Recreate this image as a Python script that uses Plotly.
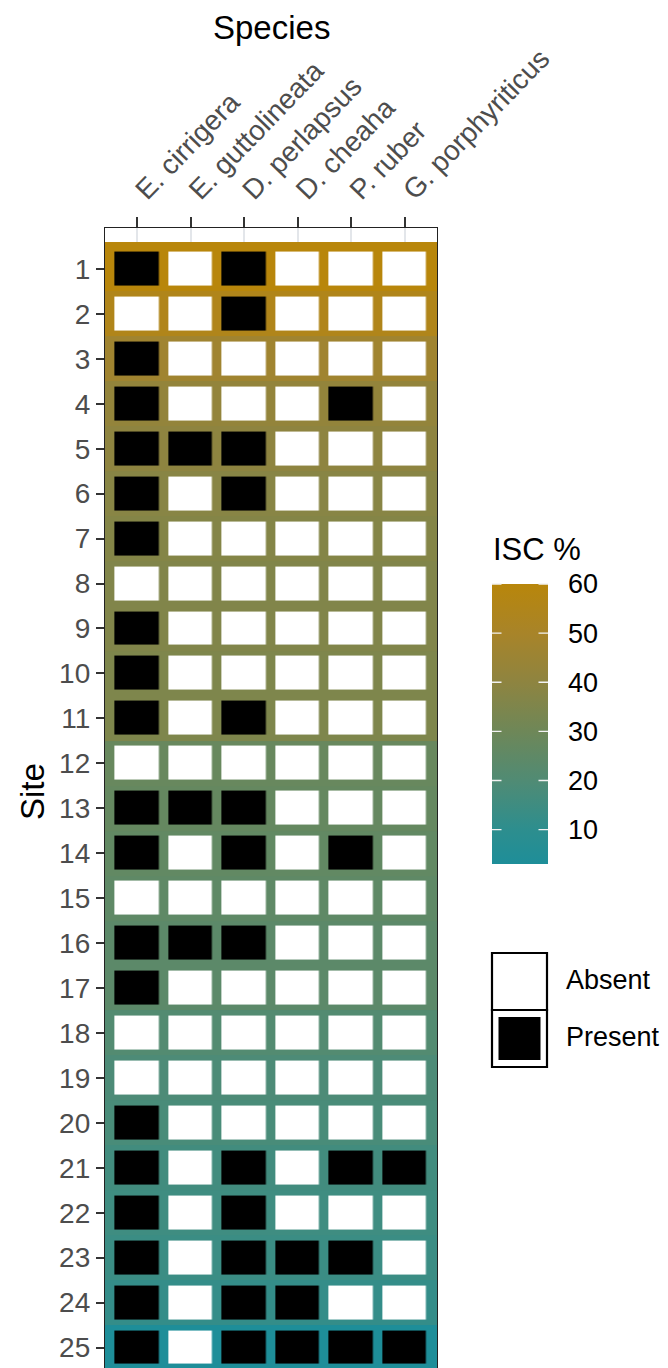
import plotly.graph_objects as go

# ---------------- data ----------------
species = ["E. cirrigera", "E. guttolineata", "D. perlapsus",
           "D. cheaha", "P. ruber", "G. porphyriticus"]
sites = list(range(1, 26))
isc = [60, 55, 47, 42, 40, 38, 37, 36, 36, 35, 35, 28, 27, 26, 25,
       24, 24, 21, 19, 18, 16, 15, 14, 12, 3]

e_cirrigera = [1, 0, 1, 1, 1, 1, 1, 0, 1, 1, 1, 0, 1, 1, 0, 1, 1, 0, 0, 1, 1, 1, 1, 1, 1]
e_guttolineata = [0, 0, 0, 0, 1, 0, 0, 0, 0, 0, 0, 0, 1, 0, 0, 1, 0, 0, 0, 0, 0, 0, 0, 0, 0]
d_perlapsus = [1, 1, 0, 0, 1, 1, 0, 0, 0, 0, 1, 0, 1, 1, 0, 1, 0, 0, 0, 0, 1, 1, 1, 1, 1]
d_cheaha = [0, 0, 0, 0, 0, 0, 0, 0, 0, 0, 0, 0, 0, 0, 0, 0, 0, 0, 0, 0, 0, 0, 1, 1, 1]
p_ruber = [0, 0, 0, 1, 0, 0, 0, 0, 0, 0, 0, 0, 0, 1, 0, 0, 0, 0, 0, 0, 1, 0, 1, 0, 1]
g_porphyriticus = [0, 0, 0, 0, 0, 0, 0, 0, 0, 0, 0, 0, 0, 0, 0, 0, 0, 0, 0, 0, 1, 0, 0, 0, 1]

isc_ticks = [10, 20, 30, 40, 50, 60]
legend_labels = ["Absent", "Present"]

presence_cols = [e_cirrigera, e_guttolineata, d_perlapsus, d_cheaha, p_ruber, g_porphyriticus]
presence = [[col[i] for col in presence_cols] for i in range(len(sites))]

# colour ramp (value -> colour)
ramp_values = [3, 10, 20, 30, 40, 50, 60]
ramp_colors = ["#1E8E99", "#2D8E8E", "#508B74", "#6E8758", "#8E8440", "#A88429", "#B8860B"]

# ---------------- geometry helpers ----------------
W, H = 668, 1368
PL, PR, PT, PB = 105, 437, 228, 1368


def pxx(x):
    return (x - PL) / (PR - PL)


def pxy(y):
    return 1 - (y - PT) / (PB - PT)


zmin, zmax = min(isc), max(isc)
isc_scale = [[(v - zmin) / (zmax - zmin), c] for v, c in zip(ramp_values, ramp_colors)]

xpos = list(range(len(species)))
x_edges = [xpos[0] - 0.6] + [v + 0.5 for v in xpos[:-1]] + [xpos[-1] + 0.6]
y_edges = [sites[0] - 0.6] + [s + 0.5 for s in sites[:-1]] + [sites[-1] + 0.6]

# colour-bar geometry (pixels)
CB_X0, CB_X1, CB_TOP, CB_BOT = 492, 548, 584, 864

fig = go.Figure()

# coloured tile outlines (ISC %)
fig.add_trace(go.Heatmap(
    x=x_edges, y=y_edges,
    z=[[v] * len(species) for v in isc],
    zmin=zmin, zmax=zmax,
    colorscale=isc_scale,
    hoverinfo="skip",
    colorbar=dict(
        x=pxx(CB_X0), xanchor="left", y=pxy(CB_TOP), yanchor="top",
        lenmode="pixels", len=CB_BOT - CB_TOP, thickness=CB_X1 - CB_X0,
        xpad=0, ypad=0, outlinewidth=0,
        tickvals=isc_ticks, ticks="outside", ticklen=15,
        tickcolor="rgba(0,0,0,0)",
        tickfont=dict(size=27, color="black", family="Liberation Sans"),
    ),
))

# presence / absence tiles
fig.add_trace(go.Heatmap(
    x=xpos, y=sites, z=presence,
    zmin=0, zmax=1,
    colorscale=[[0, "white"], [1, "black"]],
    showscale=False, xgap=9.5, ygap=11,
    hoverinfo="skip",
))

fig.update_xaxes(
    range=[-0.6, 5.6], side="top",
    tickmode="array", tickvals=xpos, ticktext=species, tickangle=-46,
    ticks="outside", ticklen=10, tickwidth=1.5, tickcolor="#333333",
    tickfont=dict(size=28, color="#4D4D4D", family="Liberation Sans"),
    showgrid=True, gridcolor="#E3E6EA", gridwidth=1.5,
    zeroline=False, showline=True, linecolor="#222222", linewidth=1.3, mirror=True,
)
fig.update_yaxes(
    range=[25.456, 0.088],
    tickmode="array", tickvals=sites, ticktext=[str(s) for s in sites],
    ticks="outside", ticklen=8, tickwidth=1.5, tickcolor="#333333",
    tickfont=dict(size=28, color="#4D4D4D", family="Liberation Sans"),
    showgrid=False, zeroline=False,
    showline=True, linecolor="#222222", linewidth=1.3, mirror=True,
)

# inner white tick marks of the colour bar (drawn as arrow-less annotation lines)
for v in isc_ticks:
    yy = CB_TOP + (zmax - v) / (zmax - zmin) * (CB_BOT - CB_TOP)
    for xe, dx in ((CB_X0, 11), (CB_X1, -11)):
        fig.add_annotation(text="", xref="paper", yref="paper",
                           x=pxx(xe), y=pxy(yy), ax=dx, ay=0,
                           showarrow=True, arrowhead=0, arrowwidth=1.3,
                           arrowcolor="#F2F2F2", standoff=0, startstandoff=0)

fig.add_annotation(text="ISC %", xref="paper", yref="paper",
                   x=pxx(CB_X0 - 1), y=pxy(549), xanchor="left", yanchor="middle",
                   showarrow=False,
                   font=dict(size=31, color="black", family="Liberation Sans"))

# discrete legend (Absent / Present)
key_x0, key_x1 = 492, 547
key_rows = [(953, 1010), (1010, 1067)]
for (y0, y1) in key_rows:
    fig.add_shape(type="rect", xref="paper", yref="paper",
                  x0=pxx(key_x0), x1=pxx(key_x1), y0=pxy(y1), y1=pxy(y0),
                  fillcolor="white", line=dict(color="black", width=2.2))
fig.add_shape(type="rect", xref="paper", yref="paper",
              x0=pxx(498.5), x1=pxx(540.5), y0=pxy(1060), y1=pxy(1017),
              fillcolor="black", line=dict(width=0))
for lab, (y0, y1) in zip(legend_labels, key_rows):
    fig.add_annotation(text=lab, xref="paper", yref="paper",
                       x=pxx(564), y=pxy((y0 + y1) / 2 - 2),
                       xanchor="left", yanchor="middle", showarrow=False,
                       font=dict(size=27, color="black", family="Liberation Sans"))

# axis titles
fig.add_annotation(text="Species", xref="paper", yref="paper",
                   x=pxx(271), y=pxy(28), xanchor="center", yanchor="middle",
                   showarrow=False,
                   font=dict(size=33, color="black", family="Liberation Sans"))
fig.add_annotation(text="Site", xref="paper", yref="paper",
                   x=pxx(32), y=pxy(792), xanchor="center", yanchor="middle",
                   textangle=-90, showarrow=False,
                   font=dict(size=33, color="black", family="Liberation Sans"))

fig.update_layout(
    width=W, height=H,
    margin=dict(l=PL, r=W - PR, t=PT, b=H - PB, pad=0),
    paper_bgcolor="white", plot_bgcolor="white",
    showlegend=False,
    font=dict(family="Liberation Sans"),
)

fig.write_html("out.html")
